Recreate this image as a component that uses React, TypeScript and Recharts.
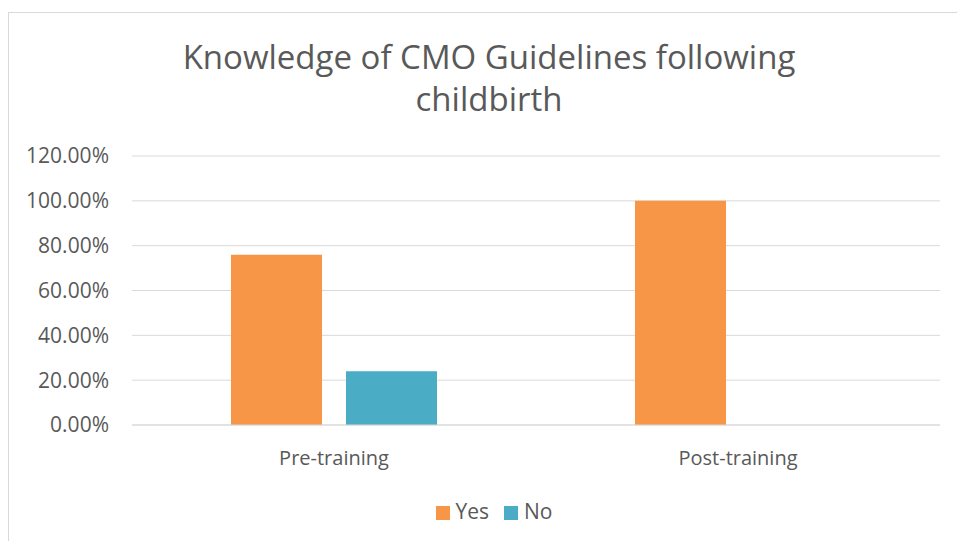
import { BarChart, Bar, XAxis, YAxis, CartesianGrid, Legend } from 'recharts';

const categories = ['Pre-training', 'Post-training'];
const yesValues = [0.76, 1.0];
const noValues = [0.24, 0];
const yTicks = [0, 0.2, 0.4, 0.6, 0.8, 1.0, 1.2];

const FONT = '"Open Sans", "Noto Sans", sans-serif';
const TEXT = '#595959';

export default function App() {
  const data = categories.map((name, i) => ({ name, Yes: yesValues[i], No: noValues[i] }));

  return (
    <div
      style={{
        position: 'fixed',
        left: 8,
        top: 12,
        width: 980,
        height: 560,
        borderLeft: '1px solid #d9d9d9',
        borderTop: '1px solid #d9d9d9',
        background: '#fff',
      }}
    >
      <div
        style={{
          position: 'absolute',
          left: 0,
          top: 23,
          width: 960,
          textAlign: 'center',
          fontFamily: FONT,
          fontSize: 33,
          lineHeight: '42px',
          color: TEXT,
        }}
      >
        Knowledge of CMO Guidelines following
        <br />
        childbirth
      </div>
      <BarChart
        width={960}
        height={540}
        data={data}
        margin={{ top: 143, right: 29, bottom: 54, left: 0 }}
        barCategoryGap={99}
        barGap={24}
      >
        <CartesianGrid vertical={false} stroke="#d9d9d9" />
        <XAxis
          dataKey="name"
          axisLine={{ stroke: '#d9d9d9' }}
          tickLine={false}
          tickSize={0}
          tickMargin={26}
          height={46}
          tick={{ fill: TEXT, fontSize: 20, fontFamily: FONT }}
        />
        <YAxis
          domain={[0, 1.2]}
          ticks={yTicks}
          interval={0}
          axisLine={false}
          tickLine={false}
          tickSize={0}
          tickMargin={23}
          width={123}
          tickFormatter={(v: number) => (v * 100).toFixed(2) + '%'}
          tick={{ fill: TEXT, fontSize: 21, fontFamily: FONT }}
        />
        <Legend
          verticalAlign="bottom"
          iconType="square"
          iconSize={14}
          itemSorter={(item: any) => (item.dataKey === 'Yes' ? 0 : 1)}
          wrapperStyle={{ fontFamily: FONT, fontSize: 21, bottom: 28, left: 27 }}
          formatter={(value: string) => (
            <span style={{ color: TEXT, marginLeft: 2, marginRight: 5 }}>{value}</span>
          )}
        />
        <Bar dataKey="Yes" fill="#F79646" isAnimationActive={false} />
        <Bar dataKey="No" fill="#4BACC6" isAnimationActive={false} />
      </BarChart>
    </div>
  );
}
